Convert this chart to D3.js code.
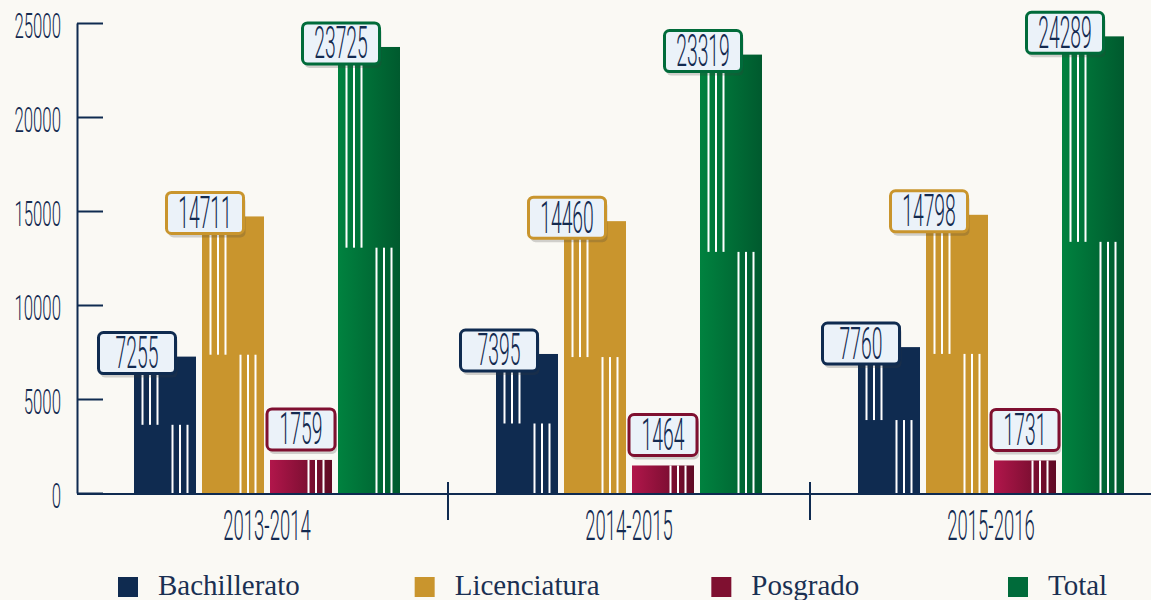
<!DOCTYPE html>
<html>
<head>
<meta charset="utf-8">
<script src="https://cdn.jsdelivr.net/npm/d3@7"></script>
<style>
  html, body { margin: 0; padding: 0; background: #faf9f4; }
  svg { display: block; }
</style>
</head>
<body>
<div id="chart"></div>
<script>
// data
const years = ['2013-2014', '2014-2015', '2015-2016'];
const series = ['Bachillerato', 'Licenciatura', 'Posgrado', 'Total'];
const bachillerato = [7255, 7395, 7760];
const licenciatura = [14711, 14460, 14798];
const posgrado = [1759, 1464, 1731];
const total = [23725, 23319, 24289];
const yTicks = [0, 5000, 10000, 15000, 20000, 25000];

const values = [bachillerato, licenciatura, posgrado, total];

// styles
const colors = ['#0f2b50', '#c9952d', '#7f1030', '#006b3a'];
const gradFrom = ['#0f2b50', '#c9952d', '#b1164b', '#00823f'];
const gradTo = ['#0f2b50', '#c9952d', '#5e0a23', '#005a2e'];
const stripeSplit = [0.5, 0.5, 1, 0.55];
const navy = '#0f2b50';
const textNavy = '#132a50';
const condensed = 'Roboto, "Liberation Sans", sans-serif';

const width = 1151, height = 600;
const margin = {left: 77, top: 23, bottom: 107};

const svg = d3.select('#chart').append('svg')
    .attr('width', width)
    .attr('height', height)
    .style('background', '#faf9f4');

const defs = svg.append('defs');
series.forEach((s, i) => {
    const g = defs.append('linearGradient')
        .attr('id', 'grad' + i)
        .attr('x1', '0%').attr('x2', '100%')
        .attr('y1', '0%').attr('y2', '0%');
    g.append('stop').attr('offset', '0%').attr('stop-color', gradFrom[i]);
    g.append('stop').attr('offset', '100%').attr('stop-color', gradTo[i]);
});

const y = d3.scaleLinear()
    .domain([0, 25000])
    .range([height - margin.bottom, margin.top]);

const x0 = d3.scaleBand()
    .domain(years)
    .range([86, 1172])
    .padding(0);

const x1 = d3.scaleBand()
    .domain(series)
    .range([48, 314])
    .paddingInner(6 / 68)
    .paddingOuter(0);

// condensed text helper
function condText(sel, x, yPos, txt, size, sx, anchor) {
    return sel.append('text')
        .attr('transform', `translate(${x},${yPos}) scale(${sx},1)`)
        .attr('text-anchor', anchor)
        .style('font-family', condensed)
        .style('font-weight', 300)
        .style('font-size', size + 'px')
        .attr('fill', textNavy)
        .text(txt);
}

// y axis
const yAxis = svg.append('g')
    .attr('transform', `translate(${margin.left},0)`)
    .call(d3.axisLeft(y).tickValues(yTicks).tickSizeInner(-26).tickSizeOuter(0).tickFormat(''));
yAxis.selectAll('path, line').attr('stroke', navy).attr('stroke-width', 2);
yTicks.forEach(t => {
    condText(svg, 61, y(t) + 15, t, 35, 0.48, 'end');
});

// bars
const groups = svg.append('g').selectAll('g')
    .data(years)
    .join('g')
    .attr('transform', d => `translate(${x0(d)},0)`);

const labelData = [];

groups.each(function(year, yi) {
    const g = d3.select(this);
    series.forEach((s, si) => {
        const v = values[si][yi];
        const bx = x1(s), bw = x1.bandwidth();
        const top = y(v), base = y(0);
        g.append('rect')
            .attr('x', bx).attr('y', top)
            .attr('width', bw).attr('height', base - top)
            .attr('fill', `url(#grad${si})`);

        const split = y(v * stripeSplit[si]);
        [7.5, 15, 22.5].forEach(o => {
            if (split > top) {
                g.append('rect')
                    .attr('x', bx + o).attr('y', top)
                    .attr('width', 2).attr('height', split - top)
                    .attr('fill', '#ffffff');
            }
        });
        [37.5, 45, 52.5].forEach(o => {
            g.append('rect')
                .attr('x', bx + o).attr('y', split)
                .attr('width', 2).attr('height', base - split)
                .attr('fill', '#ffffff');
        });
        labelData.push({x: x0(year) + bx, w: bw, top: top, base: base, v: v, si: si});
    });
});

// value labels
const labels = svg.append('g');
labelData.forEach(d => {
    const bh = d.base - d.top;
    const txt = String(d.v);
    const boxW = (txt[0] === '1' && txt.length === 4) ? 68 : 77;
    const boxH = 41;
    let cx, top;
    if (bh < 60) {
        cx = d.x + d.w / 2;
        top = d.top - 51;
    } else {
        cx = d.x + 3;
        top = d.top - 24;
    }
    const g = labels.append('g');
    g.append('rect')
        .attr('x', cx - boxW / 2 + 2).attr('y', top + 4)
        .attr('width', boxW).attr('height', boxH)
        .attr('rx', 5)
        .attr('fill', 'rgba(60,60,60,0.22)');
    g.append('rect')
        .attr('x', cx - boxW / 2).attr('y', top)
        .attr('width', boxW).attr('height', boxH)
        .attr('rx', 5)
        .attr('fill', '#ebf2f9')
        .attr('stroke', colors[d.si])
        .attr('stroke-width', 3);
    condText(g, cx, top + boxH / 2 + 15, txt, 44, 0.44, 'middle');
});

// x axis
svg.append('line')
    .attr('x1', margin.left).attr('x2', width)
    .attr('y1', y(0) + 1).attr('y2', y(0) + 1)
    .attr('stroke', navy).attr('stroke-width', 2);
years.slice(1).forEach(yr => {
    svg.append('line')
        .attr('x1', x0(yr)).attr('x2', x0(yr))
        .attr('y1', 482).attr('y2', 520)
        .attr('stroke', navy).attr('stroke-width', 2);
});
years.forEach(yr => {
    condText(svg, x0(yr) + x0.bandwidth() / 2, 540, yr, 43, 0.43, 'middle');
});

// legend
const lx = d3.scalePoint().domain(series).range([118, 1008]);
const legend = svg.append('g').selectAll('g')
    .data(series)
    .join('g')
    .attr('transform', d => `translate(${lx(d)},577)`);
legend.append('rect')
    .attr('width', 20).attr('height', 20)
    .attr('fill', (d, i) => colors[i]);
legend.append('text')
    .attr('x', 40).attr('y', 18)
    .style('font-family', '"Liberation Serif", serif')
    .style('font-size', '29px')
    .attr('fill', '#1a3052')
    .text(d => d);
</script>
</body>
</html>
